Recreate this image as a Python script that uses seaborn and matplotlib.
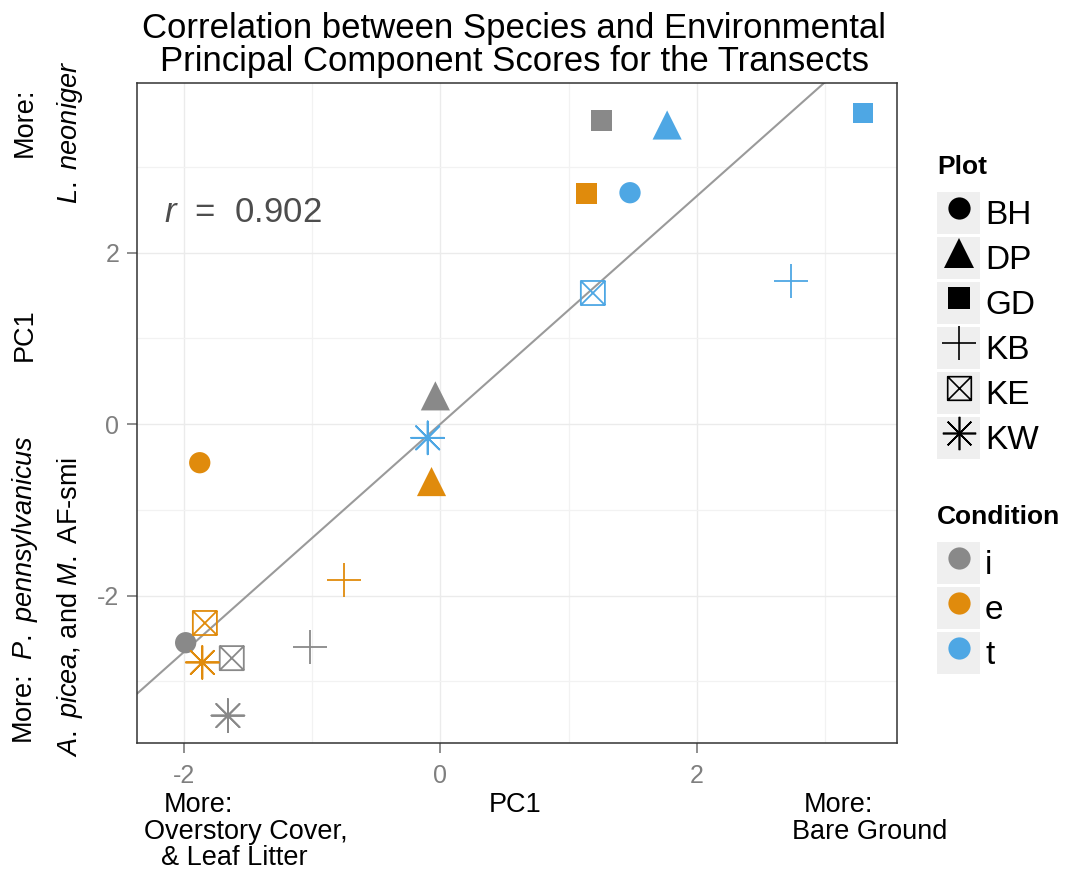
import numpy as np
import pandas as pd
import matplotlib
matplotlib.use("Agg")
import matplotlib.pyplot as plt
from matplotlib.path import Path
from matplotlib.markers import MarkerStyle
from matplotlib.lines import Line2D
from matplotlib.patches import Rectangle
from matplotlib.legend_handler import HandlerTuple
import seaborn as sns

# ---------------- data ----------------
plots = ["BH", "BH", "BH", "DP", "DP", "DP", "GD", "GD", "GD",
         "KB", "KB", "KB", "KE", "KE", "KE", "KW", "KW", "KW"]
conditions = ["i", "e", "t"] * 6
env_pc1 = [-1.99, -1.88, 1.48,
           -0.04, -0.07, 1.77,
           1.26, 1.14, 3.30,
           -1.02, -0.75, 2.74,
           -1.63, -1.84, 1.19,
           -1.66, -1.86, -0.10]
species_pc1 = [-2.55, -0.45, 2.70,
               0.33, -0.67, 3.49,
               3.54, 2.69, 3.63,
               -2.60, -1.82, 1.67,
               -2.73, -2.32, 1.53,
               -3.40, -2.78, -0.16]
plot_levels = ["BH", "DP", "GD", "KB", "KE", "KW"]
condition_levels = ["i", "e", "t"]
r_value = "0.902"
title = "Correlation between Species and Environmental\nPrincipal Component Scores for the Transects"
x_ticks = [-2, 0, 2]
y_ticks = [-2, 0, 2]

df = pd.DataFrame({"Plot": plots, "Condition": conditions,
                   "env": env_pc1, "species": species_pc1})

# ---------------- style ----------------
sns.set_theme(style="white")
plt.rcParams["font.family"] = ["Liberation Sans", "DejaVu Sans"]
plt.rcParams["text.color"] = "black"
plt.rcParams["legend.labelcolor"] = "black"
plt.rcParams["mathtext.fontset"] = "custom"
plt.rcParams["mathtext.rm"] = "Liberation Sans"
plt.rcParams["mathtext.it"] = "Liberation Sans:italic"
plt.rcParams["mathtext.bf"] = "Liberation Sans:bold"

palette = {"i": "#898989", "e": "#e08b0c", "t": "#4ea7e4"}

# custom markers
ke_path = Path(
    [(-1, -1), (1, -1), (1, 1), (-1, 1), (-1, -1),
     (-1, -1), (1, 1), (-1, 1), (1, -1)],
    [Path.MOVETO, Path.LINETO, Path.LINETO, Path.LINETO, Path.CLOSEPOLY,
     Path.MOVETO, Path.LINETO, Path.MOVETO, Path.LINETO])
ke_marker = MarkerStyle(ke_path, fillstyle="none")
kw_marker = (8, 2, 0)

marker_spec = {
    "BH": dict(marker="o", s=235, filled=True),
    "DP": dict(marker="^", s=440, filled=True),
    "GD": dict(marker="s", s=225, filled=True),
    "KB": dict(marker="+", s=600, filled=False),
    "KE": dict(marker=ke_marker, s=300, filled=False),
    "KW": dict(marker=kw_marker, s=560, filled=False),
}

W, H = 1065, 875
fig = plt.figure(figsize=(10.65, 8.75), dpi=100)
ax = fig.add_axes([137 / W, 1 - 743 / H, 760 / W, 660 / H])

ax.set_xlim(-2.37, 3.565)
ax.set_ylim(-3.72, 3.98)

# grid
ax.set_xticks(x_ticks)
ax.set_yticks(y_ticks)
ax.set_xticks([-1, 1, 3], minor=True)
ax.set_yticks([-3, -1, 1, 3], minor=True)
ax.grid(True, which="major", color="#ebebeb", linewidth=1.0)
ax.grid(True, which="minor", color="#f2f2f2", linewidth=0.9)
ax.set_axisbelow(True)

# regression line
sns.regplot(data=df, x="env", y="species", ax=ax, scatter=False, ci=None,
            truncate=False, color="#9a9a9a", line_kws=dict(linewidth=1.5, zorder=2))
ax.set_xlim(-2.37, 3.565)
ax.set_ylim(-3.72, 3.98)

# points
for p in plot_levels:
    sub = df[df["Plot"] == p]
    spec = marker_spec[p]
    kws = dict(data=sub, x="env", y="species", hue="Condition",
               hue_order=condition_levels, palette=palette, ax=ax,
               legend=False, marker=spec["marker"], s=spec["s"], zorder=3)
    if spec["filled"]:
        kws.update(edgecolor="none", linewidth=0)
    else:
        kws.update(linewidth=1.3)
    sns.scatterplot(**kws)
    if p == "KE":
        coll = ax.collections[-1]
        cols = [palette[c] for c in sub["Condition"]]
        coll.set_facecolors("none")
        coll.set_edgecolors(cols)
        coll.set_linewidths(1.3)

# axes styling
for sp in ax.spines.values():
    sp.set_visible(True)
    sp.set_color("#333333")
    sp.set_linewidth(1.1)
ax.tick_params(axis="both", which="major", length=7.2, width=1.1, color="#707070",
               labelsize=18, labelcolor="#7f7f7f", direction="out")
ax.tick_params(axis="x", which="major", pad=8)
ax.tick_params(axis="y", which="major", pad=5.5)
ax.tick_params(axis="both", which="minor", length=0)
ax.xaxis.set_ticks_position("bottom")
ax.yaxis.set_ticks_position("left")
ax.set_xticklabels([str(t) for t in x_ticks])
ax.set_yticklabels([str(t) for t in y_ticks])
ax.set_xlabel("")
ax.set_ylabel("")

# r annotation
ax.text((164 - 137) / 760, (743 - 212) / 660, r"$\mathit{r}$  =  " + r_value,
        transform=ax.transAxes, fontsize=25, color="#4d4d4d",
        ha="left", va="center")

# title
fig.text(514 / W, 1 - 45 / H, title, ha="center", va="center",
         fontsize=25, linespacing=1.02, color="black")

def ftext(x, y, s, size=19.5, **kw):
    fig.text(x / W, 1 - y / H, s, ha="center", va="center", fontsize=size,
             color="black", **kw)

# x-axis multi-part label
ftext(198, 805, "More:")
ftext(246, 832, "Overstory Cover,")
ftext(234, 858, "& Leaf Litter")
ftext(515, 805, "PC1")
ftext(838, 805, "More:")
ftext(870, 832, "Bare Ground")

# y-axis multi-part label
ftext(25, 122, "More:", rotation=90)
ftext(70, 132, r"$\mathit{L.\ neoniger}$", rotation=90)
ftext(25, 335, "PC1", rotation=90)
ftext(25, 590, r"More:  $\mathit{P.\ pennsylvanicus}$", rotation=90)
ftext(70, 607, r"$\mathit{A.\ picea}$, and $\mathit{M.}$ AF-smi", rotation=90)

# ---------------- legends ----------------
key_bg = "#efefef"
def bg():
    return Rectangle((0, 0), 1, 1, facecolor=key_bg, edgecolor="none")

leg_ms = {"BH": 16, "DP": 21, "GD": 16, "KB": 24, "KE": 17, "KW": 24}
plot_handles = []
for p in plot_levels:
    spec = marker_spec[p]
    if spec["filled"]:
        h = Line2D([], [], linestyle="none", marker=spec["marker"], color="black",
                   markersize=leg_ms[p], markeredgewidth=0)
    else:
        h = Line2D([], [], linestyle="none", marker=spec["marker"], color="black",
                   markerfacecolor="none", markersize=leg_ms[p], markeredgewidth=1.2)
    plot_handles.append((bg(), h))

cond_handles = []
for c in condition_levels:
    h = Line2D([], [], linestyle="none", marker="o", color=palette[c],
               markersize=16, markeredgewidth=0)
    cond_handles.append((bg(), h))

leg_kw = dict(loc="upper left", frameon=False, fontsize=24, numpoints=1,
              handlelength=1.29, handleheight=1.56, handletextpad=0.15,
              labelspacing=0.09, borderpad=0, borderaxespad=0,
              alignment="left", labelcolor="black",
              title_fontproperties={"weight": "bold", "size": 19},
              handler_map={tuple: HandlerTuple(ndivide=1, pad=0)})

leg1 = fig.legend(plot_handles, plot_levels, title="Plot",
                  bbox_to_anchor=(937 / W, 1 - 155 / H), **leg_kw)
leg2 = fig.legend(cond_handles, condition_levels, title="Condition",
                  bbox_to_anchor=(937 / W, 1 - 505 / H), **leg_kw)
for lg in (leg1, leg2):
    lg._legend_box.sep = 9.2
    lg.get_title().set_color("black")

fig.savefig("out.png", dpi=100, facecolor="white")
